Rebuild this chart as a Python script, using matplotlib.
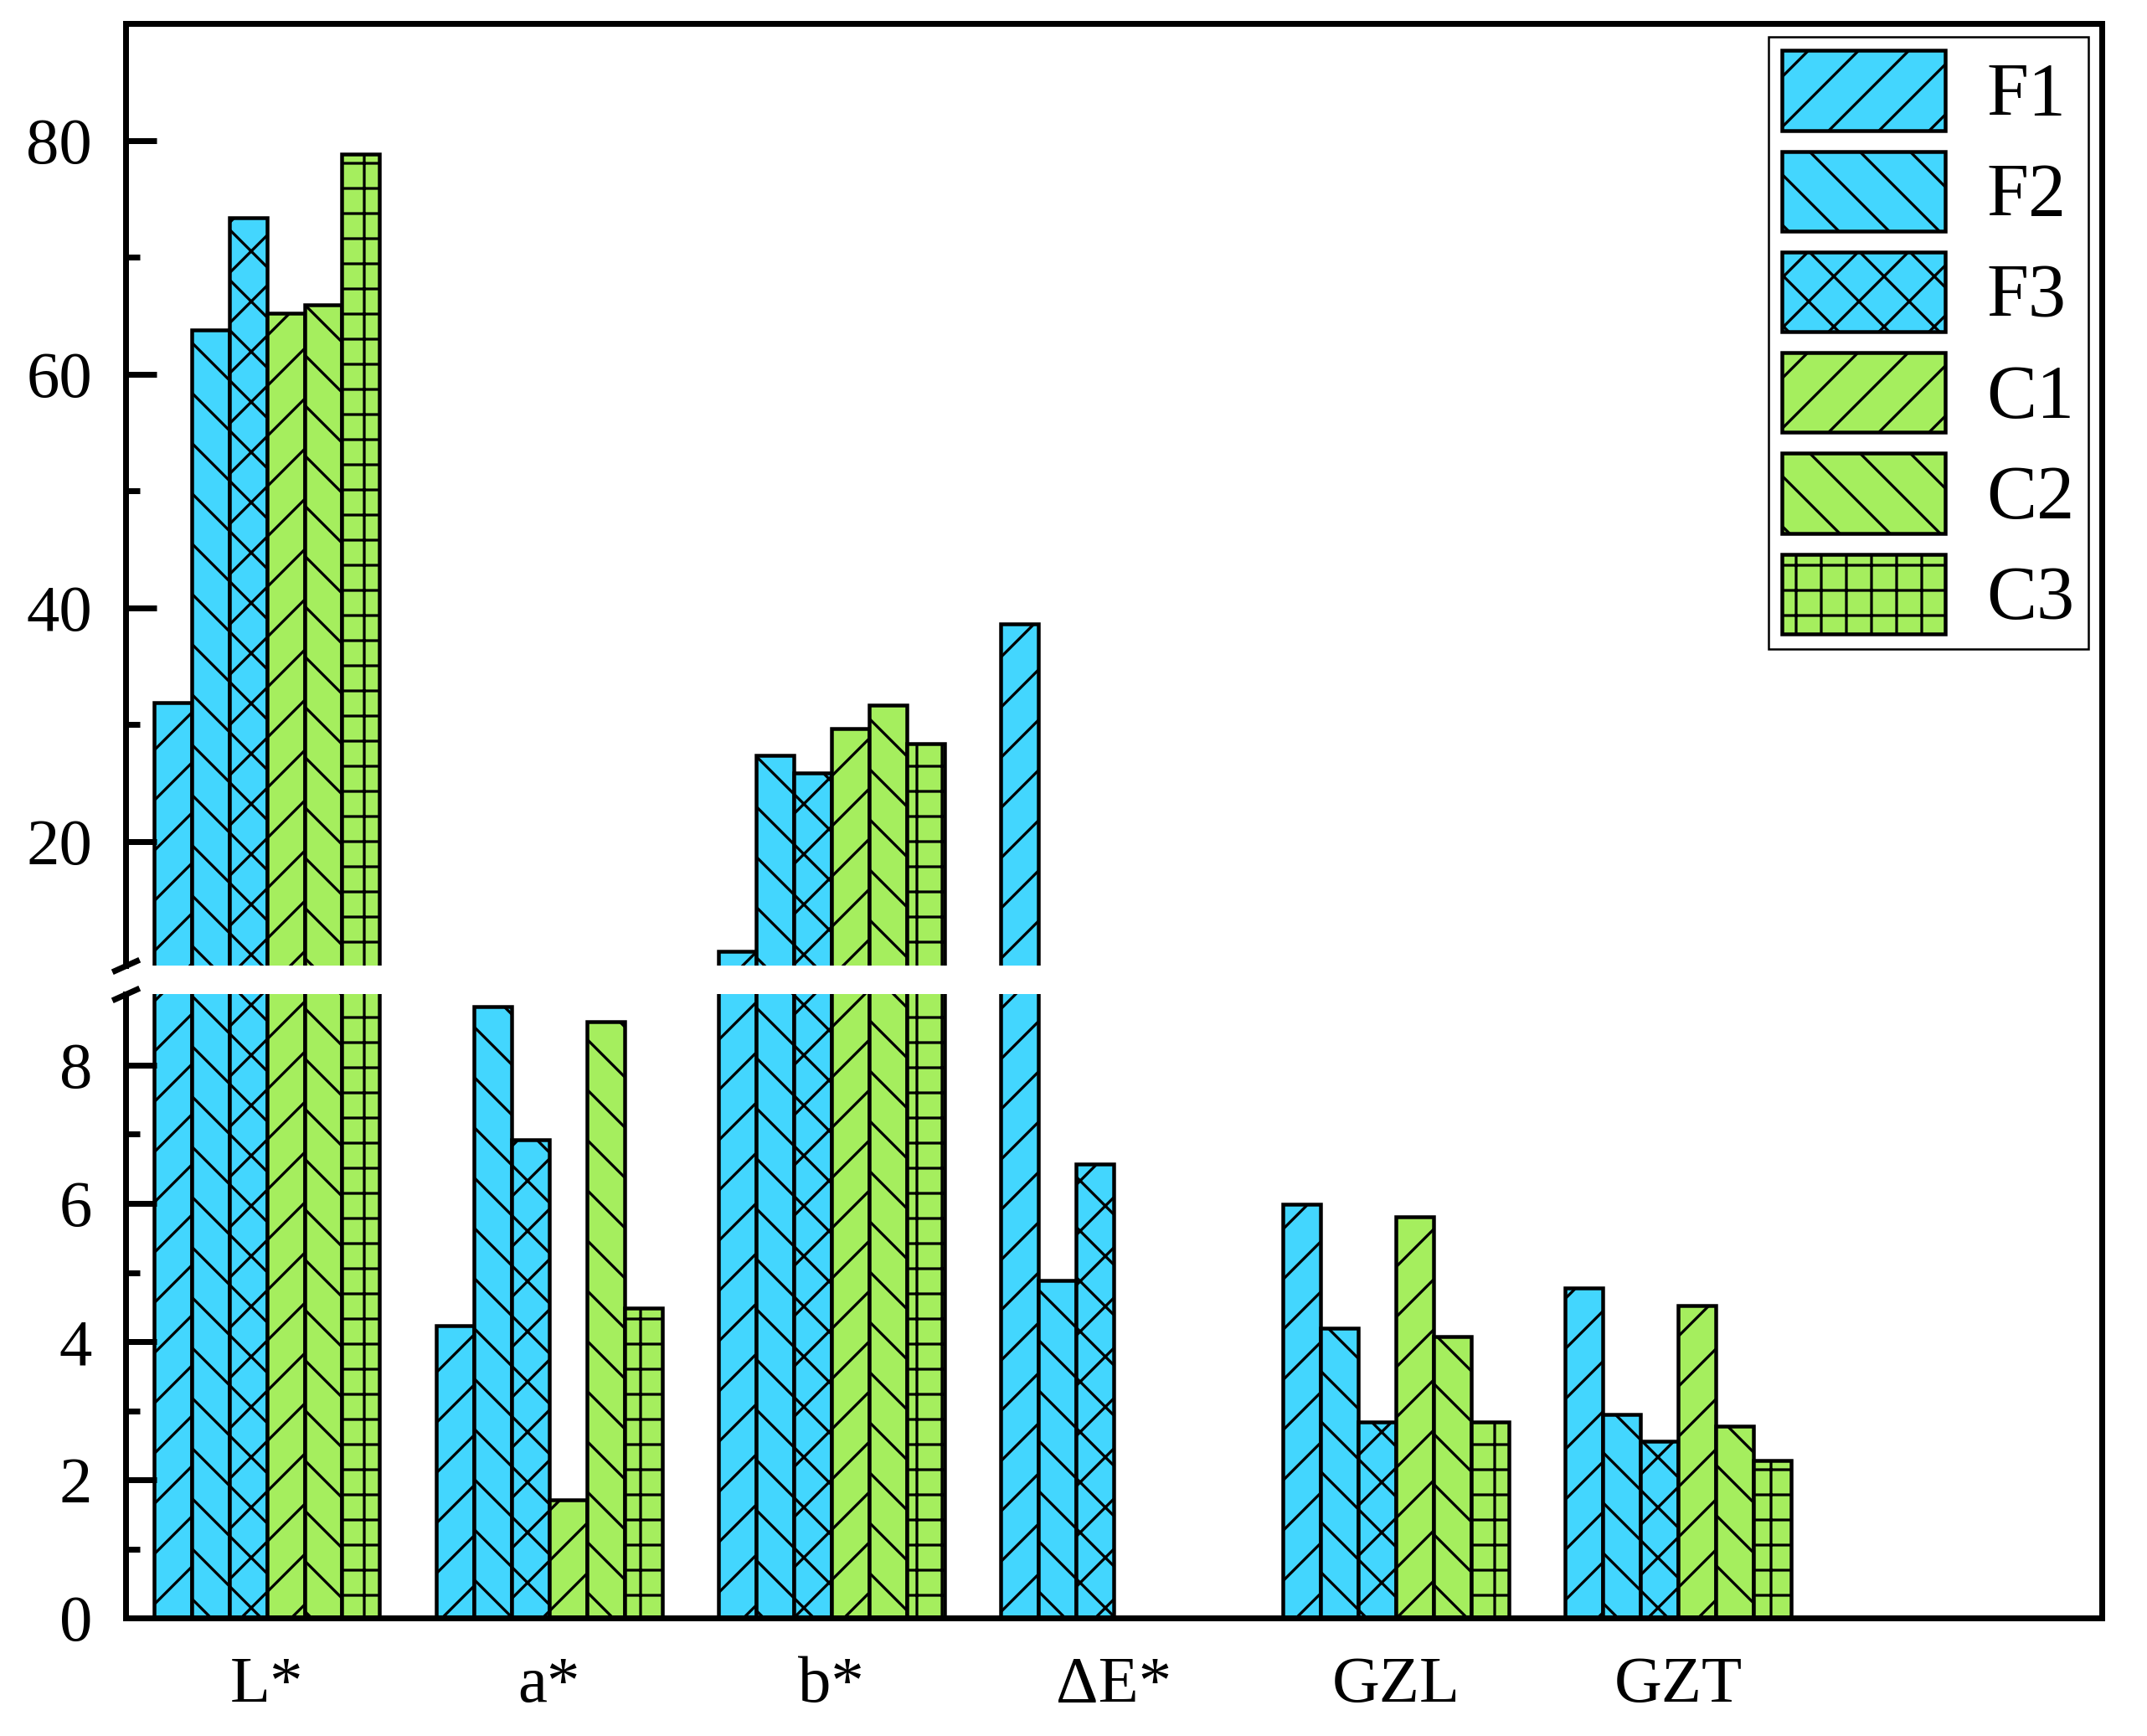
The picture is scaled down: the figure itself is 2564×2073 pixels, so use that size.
import numpy as np
import matplotlib
matplotlib.use('Agg')
import matplotlib.pyplot as plt
from matplotlib.lines import Line2D

# data
categories = ['L*', 'a*', 'b*', 'ΔE*', 'GZL', 'GZT']
series = ['F1', 'F2', 'F3', 'C1', 'C2', 'C3']
F1 = [31.9, 4.23, 10.6, 38.6, 5.99, 4.78]
F2 = [63.8, 8.85, 27.4, 4.88, 4.19, 2.94]
F3 = [73.4, 6.92, 25.9, 6.57, 2.84, 2.56]
C1 = [65.2, 1.71, 29.7, np.nan, 5.81, 4.52]
C2 = [65.9, 8.63, 31.7, np.nan, 4.07, 2.78]
C3 = [78.8, 4.48, 28.4, np.nan, 2.84, 2.28]
values = [F1, F2, F3, C1, C2, C3]

blue, green = '#43D6FE', '#A5EE5E'
colors = [blue, blue, blue, green, green, green]
hatches = ['/', '\\', 'x', '/', '\\', '+']

plt.rcParams['font.family'] = 'Liberation Serif'
plt.rcParams['hatch.linewidth'] = 1.3
plt.rcParams['hatch.color'] = 'black'

DPI = 180
fig = plt.figure(figsize=(2564 / DPI, 2073 / DPI), dpi=DPI)
left, width = 0.0585, 0.9204
lo_bot, lo_top = 0.0680, 0.4274
hi_bot, hi_top = 0.4438, 0.9865
ax_lo = fig.add_axes([left, lo_bot, width, lo_top - lo_bot])
ax_hi = fig.add_axes([left, hi_bot, width, hi_top - hi_bot])

x = np.arange(len(categories))
bw = 0.8 / len(series)
for ax in (ax_lo, ax_hi):
    for i, (name, vals) in enumerate(zip(series, values)):
        ax.bar(x - 0.4 + bw * (i + 0.5), vals, bw, color=colors[i],
               edgecolor='black', hatch=hatches[i], linewidth=1.8, label=name)
    ax.set_xlim(-0.5, 6.5)
    for sp in ax.spines.values():
        sp.set_linewidth(2.8)
    ax.tick_params(axis='y', which='major', direction='in', length=14.8,
                   width=2.8, labelsize=31.5, pad=16)
    ax.tick_params(axis='y', which='minor', direction='in', length=6.8,
                   width=2.8)
    ax.set_xticks(x)

ax_lo.set_ylim(0, 9.03)
ax_lo.set_yticks([0, 2, 4, 6, 8])
ax_lo.set_yticks([1, 3, 5, 7], minor=True)
ax_lo.set_xticklabels(categories)
ax_lo.tick_params(axis='x', length=0, labelsize=31.5, pad=18)
ax_lo.spines['top'].set_visible(False)

ax_hi.set_ylim(9.4, 90)
ax_hi.set_yticks([20, 40, 60, 80])
ax_hi.set_yticks([30, 50, 70], minor=True)
ax_hi.tick_params(axis='x', length=0, labelbottom=False)
ax_hi.spines['bottom'].set_visible(False)

leg = ax_hi.legend(loc='upper right', fontsize=36, frameon=True, fancybox=False,
                   edgecolor='black', framealpha=1, borderaxespad=0.18,
                   borderpad=0.18, handlelength=2.16, handleheight=1.25,
                   handletextpad=0.55, labelspacing=0.26)
leg.get_frame().set_linewidth(1.0)

# break marks on the left axis
kw = dict(marker=[(-1, -0.45), (1, 0.45)], markersize=13, linestyle='none',
          color='k', mec='k', mew=2.8, clip_on=False)
ax_hi.plot([0], [0], transform=ax_hi.transAxes, **kw)
ax_lo.plot([0], [1], transform=ax_lo.transAxes, **kw)

# right spine is continuous across the break
fig.add_artist(Line2D([left + width] * 2, [lo_top, hi_bot], transform=fig.transFigure,
                      color='k', lw=2.8, solid_capstyle='butt'))

fig.savefig('out.png', dpi=DPI)
